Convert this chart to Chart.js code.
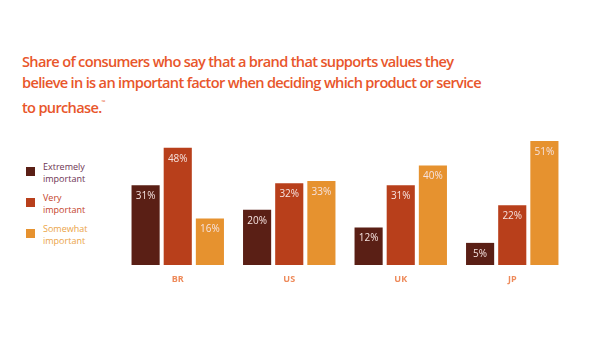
<!DOCTYPE html>
<html>
<head>
<meta charset="utf-8">
<script src="https://cdn.jsdelivr.net/npm/chart.js@4/dist/chart.umd.min.js"></script>
<style>
  html, body { margin: 0; padding: 0; background: #fff; }
  #wrap { position: relative; width: 600px; height: 363px; overflow: hidden; }
  #title { position: absolute; left: 22px; top: 51px; white-space: nowrap; font-family: "Open Sans", sans-serif; font-size: 14.6px; line-height: 20.5px; color: #e8562b; font-weight: 600; letter-spacing: -0.68px; }
  #title sup { font-size: 5px; vertical-align: 9px; }
  #legend { position: absolute; left: 26px; top: 161px; font-family: "Open Sans", sans-serif; font-size: 9px; line-height: 12px; }
  .li { position: relative; height: 31px; padding-left: 17px; }
  .sw { position: absolute; left: 0; top: 6px; width: 9px; height: 9px; }
  canvas { position: absolute; left: 0; top: 0; }
</style>
</head>
<body>
<div id="wrap">
  <div id="title">Share of consumers who say that a brand that supports values they<br>believe in is an important factor when deciding which product or service<br>to purchase.<sup>™</sup></div>
  <div id="legend"></div>
  <canvas id="c" width="600" height="363"></canvas>
</div>
<script>
const categories = ["BR", "US", "UK", "JP"];
const seriesNames = [["Extremely", "important"], ["Very", "important"], ["Somewhat", "important"]];
const extremelyImportant = [31, 20, 12, 5];
const veryImportant = [48, 32, 31, 22];
const somewhatImportant = [16, 33, 40, 51];
const barColors = ["#5a1f15", "#b83f1b", "#e6922f"];
const legendTextColors = ["#6e3452", "#c4432a", "#eba447"];

const values = [extremelyImportant, veryImportant, somewhatImportant];

const leg = document.getElementById("legend");
seriesNames.forEach((n, i) => {
  const d = document.createElement("div");
  d.className = "li";
  d.style.color = legendTextColors[i];
  d.innerHTML = '<span class="sw" style="background:' + barColors[i] + '"></span>' + n.join("<br>");
  leg.appendChild(d);
});

const labelPlugin = {
  id: "barLabels",
  afterDatasetsDraw(chart) {
    const ctx = chart.ctx;
    ctx.save();
    ctx.font = "10px 'Open Sans', sans-serif";
    ctx.fillStyle = "#f6e3e0";
    ctx.textAlign = "center";
    ctx.textBaseline = "top";
    chart.data.datasets.forEach((ds, di) => {
      chart.getDatasetMeta(di).data.forEach((bar, i) => {
        ctx.fillText(ds.data[i] + "%", bar.x, bar.y + 6);
      });
    });
    // category labels under each group, placed with the x scale
    const xs = chart.scales.x;
    ctx.font = "bold 9px 'Open Sans', sans-serif";
    ctx.fillStyle = "#ee8a5a";
    ctx.textBaseline = "middle";
    chart.data.labels.forEach((lab, i) => {
      ctx.fillText(lab, xs.getPixelForTick(i), chart.chartArea.bottom + 14);
    });
    ctx.restore();
  }
};

new Chart(document.getElementById("c"), {
  type: "bar",
  data: {
    labels: categories,
    datasets: values.map((v, i) => ({
      label: seriesNames[i].join(" "),
      data: v,
      base: -5,
      backgroundColor: barColors[i],
      borderWidth: 0,
      categoryPercentage: 0.865,
      barPercentage: 0.875
    }))
  },
  options: {
    responsive: false,
    animation: false,
    layout: { padding: { left: 122, right: 32, top: 119, bottom: 98 } },
    plugins: { legend: { display: false }, tooltip: { enabled: false }, title: { display: false } },
    scales: {
      x: {
        display: false,
        grid: { display: false },
        border: { display: false },
        ticks: { display: false }
      },
      y: {
        display: false,
        min: -5,
        max: 61
      }
    }
  },
  plugins: [labelPlugin]
});
</script>
</body>
</html>
